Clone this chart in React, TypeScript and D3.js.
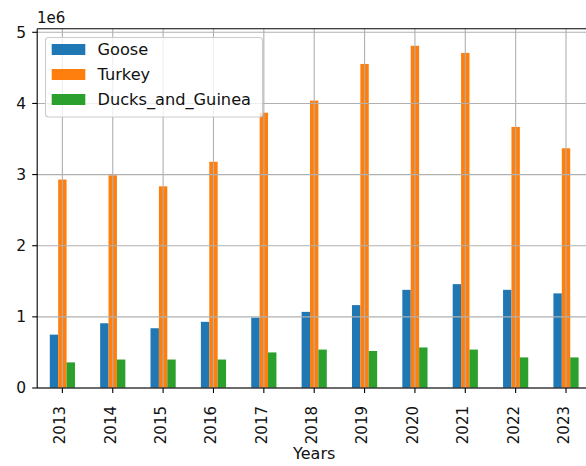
import React from "react";
import * as d3 from "d3";

const years = ["2013", "2014", "2015", "2016", "2017", "2018", "2019", "2020", "2021", "2022", "2023"];
const goose = [750000, 910000, 840000, 930000, 990000, 1070000, 1165000, 1380000, 1460000, 1380000, 1330000];
const turkey = [2930000, 2990000, 2835000, 3180000, 3870000, 4040000, 4555000, 4810000, 4710000, 3670000, 3370000];
const ducks = [360000, 400000, 400000, 400000, 500000, 540000, 520000, 570000, 540000, 430000, 430000];
const seriesNames = ["Goose", "Turkey", "Ducks_and_Guinea"];
const seriesColors = ["#1f77b4", "#ff7f0e", "#2ca02c"];
const yTicks = [0, 1000000, 2000000, 3000000, 4000000, 5000000];

const W = 586;
const H = 466;
const FONT = "DejaVu Sans, sans-serif";

export default function App() {
  const series = [goose, turkey, ducks];
  const left = 37.2;
  const right = 591.2;
  const top = 28.7;
  const bottom = 388;
  const maxV = d3.max(series.flat()) as number;

  const x = d3.scaleBand<string>().domain(years).range([left, right]).paddingInner(0).paddingOuter(0);
  const y = d3.scaleLinear().domain([0, maxV * 1.05]).range([bottom, top]);
  const bw = x.bandwidth();
  const groupW = bw * 0.5;
  const barW = groupW / series.length;
  const cx = (d: string) => (x(d) as number) + bw / 2;

  const gridColor = "#b0b0b0";
  const textColor = "#111";

  return (
    <svg width={W} height={H} style={{ position: "fixed", left: 0, top: 0, background: "#fff" }} fontFamily={FONT}>
      <rect x={0} y={0} width={W} height={H} fill="#fff" />
      {/* bars */}
      {series.map((vals, si) => (
        <g key={si} fill={seriesColors[si]}>
          {vals.map((v, i) => (
            <rect
              key={i}
              x={cx(years[i]) - groupW / 2 + si * barW}
              y={y(v)}
              width={barW}
              height={bottom - y(v)}
            />
          ))}
        </g>
      ))}
      {/* grid */}
      <g stroke={gridColor} strokeWidth={1.1}>
        {years.map((d) => (
          <line key={d} x1={cx(d)} x2={cx(d)} y1={top} y2={bottom} />
        ))}
        {yTicks.map((t) => (
          <line key={t} x1={left} x2={right} y1={y(t)} y2={y(t)} />
        ))}
      </g>
      {/* spines */}
      <g stroke="#000" strokeWidth={1.1} fill="none">
        <line x1={left} x2={left} y1={top} y2={bottom} />
        <line x1={left} x2={right} y1={bottom} y2={bottom} />
        <line x1={left} x2={right} y1={top} y2={top} />
        <line x1={right} x2={right} y1={top} y2={bottom} />
      </g>
      {/* y ticks */}
      <g>
        {yTicks.map((t) => (
          <g key={t}>
            <line x1={left - 5} x2={left} y1={y(t)} y2={y(t)} stroke="#000" strokeWidth={1.1} />
            <text x={26} y={y(t)} dy="0.34em" textAnchor="end" fontSize={15.5} fill={textColor}>
              {d3.format("d")(t / 1e6)}
            </text>
          </g>
        ))}
        <text x={37} y={23} fontSize={15} fill={textColor}>1e6</text>
      </g>
      {/* x ticks */}
      <g>
        {years.map((d) => (
          <g key={d}>
            <line x1={cx(d)} x2={cx(d)} y1={bottom} y2={bottom + 5} stroke="#000" strokeWidth={1.1} />
            <text
              transform={`translate(${cx(d) + 2.9},${406}) rotate(-90)`}
              textAnchor="end"
              fontSize={15}
              fill={textColor}
            >
              {d}
            </text>
          </g>
        ))}
        <text x={(left + right) / 2} y={459} textAnchor="middle" fontSize={16} fill={textColor}>Years</text>
      </g>
      {/* legend */}
      <g>
        <rect x={45.5} y={37.5} width={217} height={79.5} rx={3} fill="#fff" fillOpacity={0.8} stroke="#cccccc" strokeWidth={1.1} />
        {seriesNames.map((n, i) => {
          const ry = 49.5 + i * 25;
          return (
            <g key={n}>
              <rect x={51.7} y={ry - 5.5} width={33.6} height={11} fill={seriesColors[i]} />
              <text x={97.5} y={ry} dy="0.35em" fontSize={16.2} fill={textColor}>{n}</text>
            </g>
          );
        })}
      </g>
    </svg>
  );
}
